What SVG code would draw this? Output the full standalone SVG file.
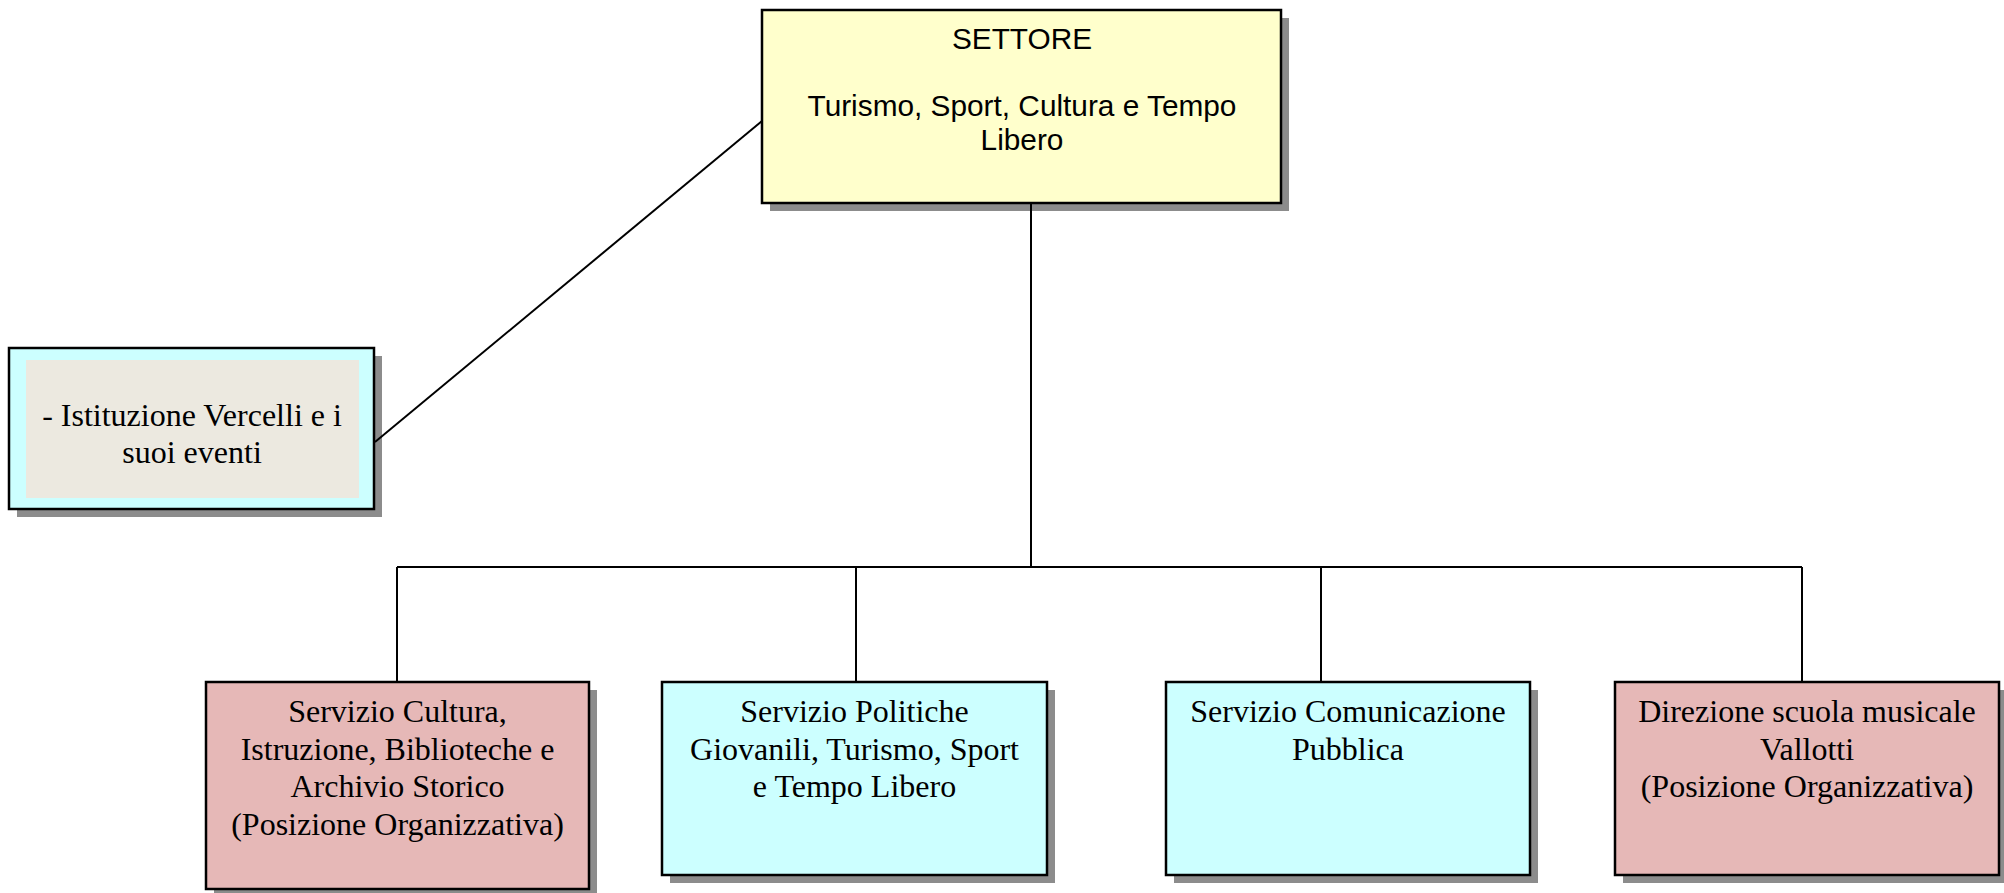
<svg xmlns="http://www.w3.org/2000/svg" width="2004" height="893" viewBox="0 0 2004 893">
<style>
.box{stroke:#000;stroke-width:2.5}
.sh{fill:#8c8c8c}
.yel{fill:#FFFFCC}
.cy{fill:#CCFFFF}
.pk{fill:#E6B8B7}
.beige{fill:#ECE9E0}
.ar{font-family:"Liberation Sans",Arial,sans-serif;font-size:29.8px;fill:#000;text-anchor:middle}
.tm{font-family:"Liberation Serif","Times New Roman",serif;font-size:32px;fill:#000;text-anchor:middle}
.ln{stroke:#000;stroke-width:2;fill:none}
</style>
<rect width="2004" height="893" fill="#fff"/>
<g id="settore">
<rect class="sh" x="770" y="18" width="519" height="193"/>
<rect class="box yel" x="762" y="10" width="519" height="193"/>
<text class="ar" x="1022" y="49">SETTORE</text>
<text class="ar" x="1022" y="116">Turismo, Sport, Cultura e Tempo</text>
<text class="ar" x="1022" y="150">Libero</text>
</g>
<g id="istituzione">
<rect class="sh" x="17" y="356" width="365" height="161"/>
<rect class="box cy" x="9" y="348" width="365" height="161"/>
<rect class="beige" x="26" y="360" width="333" height="138"/>
<text class="tm" x="192" y="426">- Istituzione Vercelli e i</text>
<text class="tm" x="192" y="463">suoi eventi</text>
</g>
<g id="cultura">
<rect class="sh" x="214" y="690" width="383" height="207"/>
<rect class="box pk" x="206" y="682" width="383" height="207"/>
<text class="tm" x="397.5" y="722">Servizio Cultura,</text>
<text class="tm" x="397.5" y="760">Istruzione, Biblioteche e</text>
<text class="tm" x="397.5" y="797">Archivio Storico</text>
<text class="tm" x="397.5" y="835">(Posizione Organizzativa)</text>
</g>
<g id="politiche">
<rect class="sh" x="670" y="690" width="385" height="193"/>
<rect class="box cy" x="662" y="682" width="385" height="193"/>
<text class="tm" x="854.5" y="722">Servizio Politiche</text>
<text class="tm" x="854.5" y="760">Giovanili, Turismo, Sport</text>
<text class="tm" x="854.5" y="797">e Tempo Libero</text>
</g>
<g id="comunicazione">
<rect class="sh" x="1174" y="690" width="364" height="193"/>
<rect class="box cy" x="1166" y="682" width="364" height="193"/>
<text class="tm" x="1348" y="722">Servizio Comunicazione</text>
<text class="tm" x="1348" y="760">Pubblica</text>
</g>
<g id="vallotti">
<rect class="sh" x="1623" y="690" width="385" height="193"/>
<rect class="box pk" x="1615" y="682" width="384" height="193"/>
<text class="tm" x="1807" y="722">Direzione scuola musicale</text>
<text class="tm" x="1807" y="760">Vallotti</text>
<text class="tm" x="1807" y="797">(Posizione Organizzativa)</text>
</g>
<g id="connectors">
<line class="ln" x1="762" y1="121" x2="375" y2="442"/>
<line class="ln" x1="1031" y1="204" x2="1031" y2="567"/>
<line class="ln" x1="397" y1="567" x2="1802" y2="567"/>
<line class="ln" x1="397" y1="567" x2="397" y2="681"/>
<line class="ln" x1="856" y1="567" x2="856" y2="681"/>
<line class="ln" x1="1321" y1="567" x2="1321" y2="681"/>
<line class="ln" x1="1802" y1="567" x2="1802" y2="681"/>
</g>
</svg>
